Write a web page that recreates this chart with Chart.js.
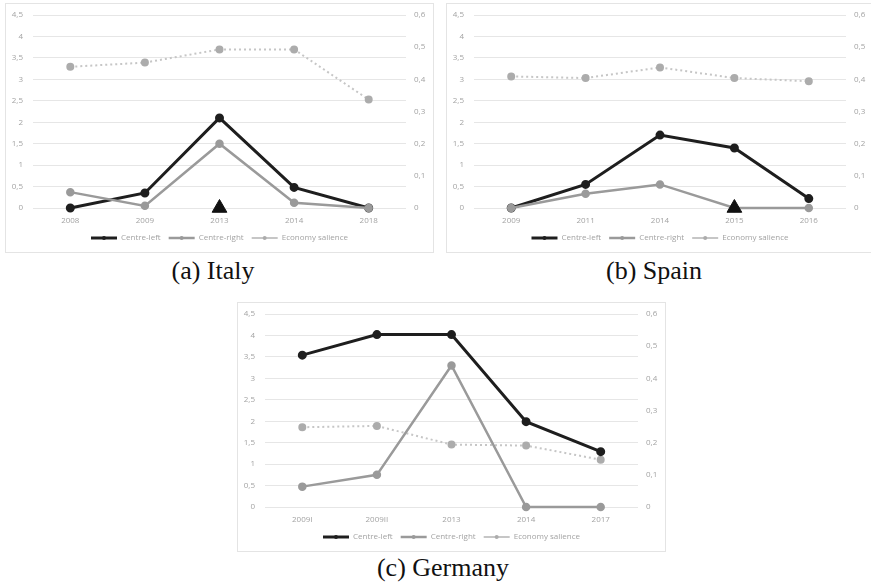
<!DOCTYPE html>
<html lang="en">
<head>
  <meta charset="UTF-8" />
  <title>Centre-left, Centre-right and Economy salience</title>
  <script src="https://cdn.jsdelivr.net/npm/chart.js"></script>
  <style>
    body {
      margin: 0;
      background: #fff;
      width: 871px;
      height: 584px;
      position: relative;
      overflow: hidden;
    }

    .panel {
      position: absolute;
      border: 1px solid #e4e4e4;
      box-sizing: border-box;
    }

    .caption {
      position: absolute;
      font-family: 'Liberation Serif', 'Times New Roman', serif;
      font-size: 26px;
      color: #111;
      text-align: center;
      line-height: 1;
    }
  </style>
</head>
<body>
  <div class="panel" style="left:5px; top:3px; width:429px; height:250px;">
    <canvas id="italy"></canvas>
  </div>
  <div class="panel" style="left:446px; top:3px; width:428px; height:250px;">
    <canvas id="spain"></canvas>
  </div>
  <div class="panel" style="left:237px; top:302px; width:429px; height:250px;">
    <canvas id="germany"></canvas>
  </div>

  <div class="caption" style="left:113px; top:258px; width:200px;">(a) Italy</div>
  <div class="caption" style="left:554px; top:258px; width:200px;">(b) Spain</div>
  <div class="caption" style="left:343px; top:555px; width:200px;">(c) Germany</div>

  <script>
    // tick labels (comma decimals as in the original)
    const leftTicks = ['0', '0,5', '1', '1,5', '2', '2,5', '3', '3,5', '4', '4,5'];
    const rightTicks = ['0', '0,1', '0,2', '0,3', '0,4', '0,5', '0,6'];

    // (a) Italy
    const italyYears = ['2008', '2009', '2013', '2014', '2018'];
    const italyLeft = [0, 0.35, 2.1, 0.48, 0];
    const italyRight = [0.37, 0.05, 1.5, 0.12, 0];
    const italyEconomy = [0.439, 0.452, 0.493, 0.493, 0.337];
    const italyEvent = [null, null, 0, null, null];

    // (b) Spain
    const spainYears = ['2009', '2011', '2014', '2015', '2016'];
    const spainLeft = [0, 0.55, 1.7, 1.4, 0.22];
    const spainRight = [0, 0.33, 0.55, 0, 0];
    const spainEconomy = [0.409, 0.404, 0.437, 0.404, 0.394];
    const spainEvent = [null, null, null, 0, null];

    // (c) Germany
    const germanyYears = ['2009I', '2009II', '2013', '2014', '2017'];
    const germanyLeft = [3.54, 4.02, 4.02, 1.99, 1.29];
    const germanyRight = [0.475, 0.75, 3.3, 0, 0];
    const germanyEconomy = [0.248, 0.252, 0.194, 0.191, 0.147];

    Chart.defaults.font.family = "'Open Sans', 'Liberation Sans', sans-serif";
    Chart.defaults.font.size = 8;
    Chart.defaults.color = '#a3a3a3';

    // little marker dot in the middle of each legend line, like Excel does
    const legendDots = {
      id: 'legendDots',
      afterDraw(chart) {
        const legend = chart.legend;
        if (!legend || !legend.legendHitBoxes) return;
        const ctx = chart.ctx;
        legend.legendItems.forEach((item, i) => {
          const box = legend.legendHitBoxes[i];
          const ds = chart.data.datasets[item.datasetIndex];
          ctx.save();
          ctx.fillStyle = ds.pointBackgroundColor;
          ctx.beginPath();
          ctx.arc(box.left + 13, box.top + box.height / 2, 2, 0, Math.PI * 2);
          ctx.fill();
          ctx.restore();
        });
      }
    };

    // fixed axis width, and no extra room above the top tick
    function fixAxis(width) {
      return scale => {
        scale.width = width;
        scale.paddingTop = 0;
        scale.paddingBottom = 0;
      };
    }

    function makeChart(id, years, left, right, economy, event) {
      const datasets = [
        {
          label: 'Centre-left',
          data: left,
          yAxisID: 'y',
          borderColor: '#1e1e1e',
          backgroundColor: '#1e1e1e',
          pointBackgroundColor: '#1e1e1e',
          pointBorderColor: '#1e1e1e',
          borderWidth: 3,
          pointRadius: 3,
          clip: false,
          order: 2
        },
        {
          label: 'Centre-right',
          data: right,
          yAxisID: 'y',
          borderColor: '#9a9a9a',
          backgroundColor: '#9a9a9a',
          pointBackgroundColor: '#9a9a9a',
          pointBorderColor: '#9a9a9a',
          borderWidth: 2.5,
          pointRadius: 3,
          clip: false,
          order: 1
        },
        {
          label: 'Economy salience',
          data: economy,
          yAxisID: 'y1',
          borderColor: '#c6c6c6',
          backgroundColor: '#c6c6c6',
          pointBackgroundColor: '#acacac',
          pointBorderColor: '#acacac',
          borderWidth: 2,
          borderDash: [2, 3],
          pointRadius: 3,
          clip: false,
          order: 3
        }
      ];
      if (event) {
        datasets.push({
          label: 'event',
          data: event,
          yAxisID: 'y',
          showLine: false,
          pointStyle: 'triangle',
          pointRadius: 8.5,
          pointBackgroundColor: '#111',
          pointBorderColor: '#111',
          clip: false,
          order: 0
        });
      }

      return new Chart(document.getElementById(id), {
        type: 'line',
        data: { labels: years, datasets: datasets },
        plugins: [legendDots],
        options: {
          responsive: true,
          maintainAspectRatio: false,
          animation: false,
          layout: { padding: { top: 11, left: 0, right: 0, bottom: 0 } },
          plugins: {
            tooltip: { enabled: false },
            legend: {
              position: 'bottom',
              labels: {
                usePointStyle: true,
                pointStyleWidth: 26,
                padding: 8,
                boxHeight: 8,
                filter: item => item.text !== 'event',
                sort: (a, b) => a.datasetIndex - b.datasetIndex,
                generateLabels(chart) {
                  const items = Chart.defaults.plugins.legend.labels.generateLabels(chart);
                  return items.map(item => {
                    const ds = chart.data.datasets[item.datasetIndex];
                    item.pointStyle = 'line';
                    item.lineWidth = ds.borderWidth;
                    item.strokeStyle = ds.borderColor;
                    return item;
                  });
                }
              }
            }
          },
          scales: {
            x: {
              offset: true,
              grid: { display: false, drawTicks: false },
              border: { display: false },
              ticks: { padding: 8 },
              afterFit: scale => { scale.height = 18; }
            },
            y: {
              position: 'left',
              min: 0,
              max: 4.5,
              ticks: {
                stepSize: 0.5,
                padding: 10,
                callback: (v, i) => leftTicks[i]
              },
              grid: { color: '#e6e6e6', drawTicks: false },
              border: { display: false },
              afterFit: fixAxis(27)
            },
            y1: {
              position: 'right',
              min: 0,
              max: 0.6,
              ticks: {
                stepSize: 0.1,
                padding: 8,
                callback: (v, i) => rightTicks[i]
              },
              grid: { display: false, drawTicks: false },
              border: { display: false },
              afterFit: fixAxis(27)
            }
          }
        }
      });
    }

    makeChart('italy', italyYears, italyLeft, italyRight, italyEconomy, italyEvent);
    makeChart('spain', spainYears, spainLeft, spainRight, spainEconomy, spainEvent);
    makeChart('germany', germanyYears, germanyLeft, germanyRight, germanyEconomy, null);
  </script>
</body>
</html>
